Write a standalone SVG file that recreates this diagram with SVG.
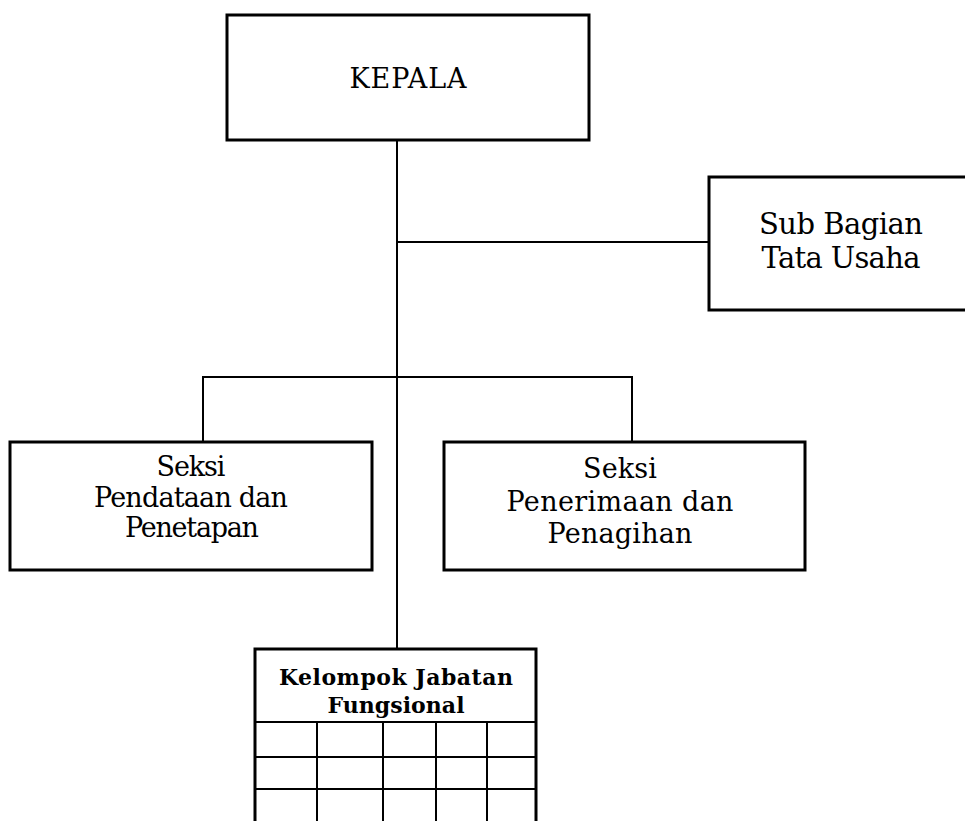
<svg xmlns="http://www.w3.org/2000/svg" width="965" height="821" viewBox="0 0 965 821">
<style>
.box{fill:#fff;stroke:#000;stroke-width:3}
.ln{fill:none;stroke:#000;stroke-width:2}
.t{font-family:"DejaVu Serif","Liberation Serif",serif;font-size:27px;fill:#000;text-anchor:middle}
.s{font-size:29px}
.b{font-family:"DejaVu Serif","Liberation Serif",serif;font-size:22px;font-weight:bold;fill:#000;text-anchor:middle}
</style>
<rect width="965" height="821" fill="#fff"/>
<g id="connectors">
<line class="ln" x1="397" y1="140" x2="397" y2="649"/>
<line class="ln" x1="397" y1="242" x2="709" y2="242"/>
<polyline class="ln" points="203,442 203,377 632,377 632,442"/>
</g>
<g id="kepala">
<rect class="box" x="227" y="15" width="362" height="125"/>
<text class="t" x="408" y="88" textLength="117">KEPALA</text>
</g>
<g id="subbagian">
<rect class="box" x="709" y="177" width="270" height="133"/>
<text class="t s" x="841" y="234" textLength="164">Sub Bagian</text>
<text class="t s" x="841" y="268" textLength="159">Tata Usaha</text>
</g>
<g id="seksi1">
<rect class="box" x="10" y="442" width="362" height="128"/>
<text class="t" x="191" y="476" textLength="69">Seksi</text>
<text class="t" x="191" y="507" textLength="194">Pendataan dan</text>
<text class="t" x="192" y="537" textLength="134">Penetapan</text>
</g>
<g id="seksi2">
<rect class="box" x="444" y="442" width="361" height="128"/>
<text class="t" x="620" y="478" textLength="74">Seksi</text>
<text class="t" x="620" y="511" textLength="227">Penerimaan dan</text>
<text class="t" x="620" y="543" textLength="145">Penagihan</text>
</g>
<g id="fungsional">
<rect class="box" x="255" y="649" width="281" height="190"/>
<text class="b" x="396" y="685" textLength="234">Kelompok Jabatan</text>
<text class="b" x="396" y="713" textLength="137">Fungsional</text>
<line class="ln" x1="255" y1="722" x2="536" y2="722"/>
<line class="ln" x1="255" y1="757" x2="536" y2="757"/>
<line class="ln" x1="255" y1="789" x2="536" y2="789"/>
<line class="ln" x1="317" y1="722" x2="317" y2="821"/>
<line class="ln" x1="383" y1="722" x2="383" y2="821"/>
<line class="ln" x1="436" y1="722" x2="436" y2="821"/>
<line class="ln" x1="487" y1="722" x2="487" y2="821"/>
</g>
</svg>
